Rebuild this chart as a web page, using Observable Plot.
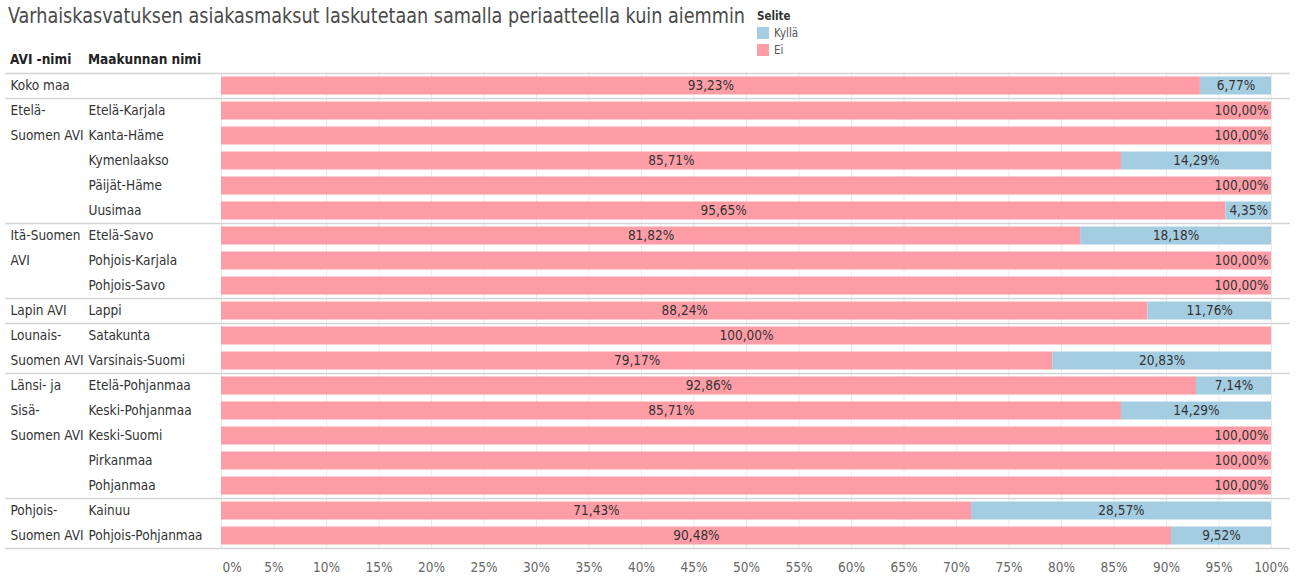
<!DOCTYPE html>
<html><head><meta charset="utf-8">
<script src="https://cdn.jsdelivr.net/npm/d3@7"></script>
<script src="https://cdn.jsdelivr.net/npm/@observablehq/plot@0.6"></script>
<style>
body{margin:0;background:#fff;}
#wrap{position:relative;width:1301px;height:577px;font-family:"Liberation Sans Narrow","DejaVu Sans Condensed",sans-serif;}
#chart{position:absolute;left:0;top:0;z-index:0;}
#title{position:absolute;left:8px;top:4px;font-size:21px;color:#4a4a4a;white-space:nowrap;transform-origin:0 0;z-index:2;}
#legend{position:absolute;left:757px;top:9px;font-size:11.5px;color:#555;z-index:2;}
#legend .h{font-weight:bold;color:#333;margin-bottom:1px;}
#legend .it{display:flex;align-items:center;height:17px;}
#legend .sw{width:12px;height:12px;margin-right:5px;}
#hdr1,#hdr2{position:absolute;top:51px;font-size:13.5px;font-weight:bold;color:#222;z-index:2;}
#hdr1{left:10px}#hdr2{left:88px}
</style></head>
<body><div id="wrap">
<div id="chart"></div>
<div id="title">Varhaiskasvatuksen asiakasmaksut laskutetaan samalla periaatteella kuin aiemmin</div>
<div id="legend"></div>
<div id="hdr1">AVI -nimi</div><div id="hdr2">Maakunnan nimi</div>
</div>
<script>
// ---- data ----
const seriesNames = ["Kyllä", "Ei"];
const seriesColors = ["#a5cde2", "#ff9da7"];
const aviLabelLines = [
  ["Koko maa"],
  ["Etelä-", "Suomen AVI"],
  ["Itä-Suomen", "AVI"],
  ["Lapin AVI"],
  ["Lounais-", "Suomen AVI"],
  ["Länsi- ja", "Sisä-", "Suomen AVI"],
  ["Pohjois-", "Suomen AVI"]
];
const aviRegions = [
  ["Koko maa"],
  ["Etelä-Karjala", "Kanta-Häme", "Kymenlaakso", "Päijät-Häme", "Uusimaa"],
  ["Etelä-Savo", "Pohjois-Karjala", "Pohjois-Savo"],
  ["Lappi"],
  ["Satakunta", "Varsinais-Suomi"],
  ["Etelä-Pohjanmaa", "Keski-Pohjanmaa", "Keski-Suomi", "Pirkanmaa", "Pohjanmaa"],
  ["Kainuu", "Pohjois-Pohjanmaa"]
];
const regions = aviRegions.flat();
const eiValues = [93.23, 100, 100, 85.71, 100, 95.65, 81.82, 100, 100, 88.24, 100, 79.17, 92.86, 85.71, 100, 100, 100, 71.43, 90.48];
const kyllaValues = [6.77, null, null, 14.29, null, 4.35, 18.18, null, null, 11.76, 0, 20.83, 7.14, 14.29, null, null, null, 28.57, 9.52];
const xTicks = [0, 5, 10, 15, 20, 25, 30, 35, 40, 45, 50, 55, 60, 65, 70, 75, 80, 85, 90, 95, 100];

// ---- legend ----
const lg = document.getElementById("legend");
lg.innerHTML = '<div class="h">Selite</div>' + seriesNames.map((s, i) =>
  `<div class="it"><div class="sw" style="background:${seriesColors[i]}"></div>${s}</div>`).join("");

// fit title to reference width
const tEl = document.getElementById("title");
const tw = tEl.getBoundingClientRect().width;
tEl.style.transform = `scaleX(${737 / tw})`;

// ---- derived tables ----
const fmt = v => v.toFixed(2).replace(".", ",") + "%";
const rows = regions.map((r, i) => ({region: r, ei: eiValues[i], kylla: kyllaValues[i], total: i === 0}));
const segs = [];
rows.forEach(d => {
  segs.push({region: d.region, s: "Ei", x1: 0, x2: d.ei});
  if (d.kylla) segs.push({region: d.region, s: "Kyllä", x1: d.ei, x2: d.ei + d.kylla});
});
const aviText = [];
aviLabelLines.forEach((lines, g) => lines.forEach((t, k) => aviText.push({region: aviRegions[g][k], text: t})));
const groupStarts = aviRegions.map(g => g[0]);

const H = 577, MT = 72, MB = 29;
const step = (H - MT - MB) / regions.length;
const lineCol = "#d4d4d4";
const font = '"Liberation Sans Narrow","DejaVu Sans Condensed",sans-serif';
const fs = 13.5;

const plot = Plot.plot({
  width: 1301, height: H,
  marginLeft: 5, marginRight: 11, marginTop: MT, marginBottom: MB,
  style: {fontFamily: font, background: "#fff"},
  x: {domain: [0, 100], range: [221, 1271]},
  y: {domain: regions, padding: 0, axis: null},
  color: {domain: seriesNames, range: seriesColors},
  marks: [
    Plot.gridX(xTicks, {stroke: "#ebebeb", strokeOpacity: 1}),
    Plot.barX(segs, {y: "region", x1: "x1", x2: "x2", fill: "s", insetTop: 3.5, insetBottom: 3.5}),
    Plot.ruleY(groupStarts, {y: d => d, dy: -step / 2, stroke: lineCol, strokeWidth: 1.5}),
    Plot.ruleY([regions[regions.length - 1]], {y: d => d, dy: step / 2, stroke: lineCol, strokeWidth: 1.5}),
    // left columns
    Plot.text(aviText, {y: "region", text: "text", frameAnchor: "left", dx: 5, textAnchor: "start", fontSize: fs, fill: "#333"}),
    Plot.text(rows.filter(d => !d.total), {y: "region", text: "region", frameAnchor: "left", dx: 83, textAnchor: "start", fontSize: fs, fill: "#333"}),
    // Ei labels: centred, or right-aligned when no Kyllä segment
    Plot.text(rows.filter(d => d.kylla !== null), {y: "region", x: d => d.ei / 2, text: d => fmt(d.ei), fontSize: fs, fill: "#333", fontWeight: d => d.total ? "bold" : "normal"}),
    Plot.text(rows.filter(d => d.kylla === null), {y: "region", x: "ei", text: d => fmt(d.ei), textAnchor: "end", dx: -3, fontSize: fs, fill: "#333"}),
    Plot.text(rows.filter(d => d.kylla), {y: "region", x: d => d.ei + d.kylla / 2, text: d => fmt(d.kylla), fontSize: fs, fill: "#333", fontWeight: d => d.total ? "bold" : "normal"}),
    Plot.axisX(xTicks.slice(1), {tickSize: 0, tickPadding: 14, tickFormat: d => d + "%", fontSize: 13.5, fill: "#666", label: null}),
    Plot.axisX([0], {tickSize: 0, tickPadding: 14, tickFormat: d => d + "%", fontSize: 13.5, fill: "#666", textAnchor: "start", dx: 1, label: null})
  ]
});
document.getElementById("chart").appendChild(plot);
</script>
</body></html>
